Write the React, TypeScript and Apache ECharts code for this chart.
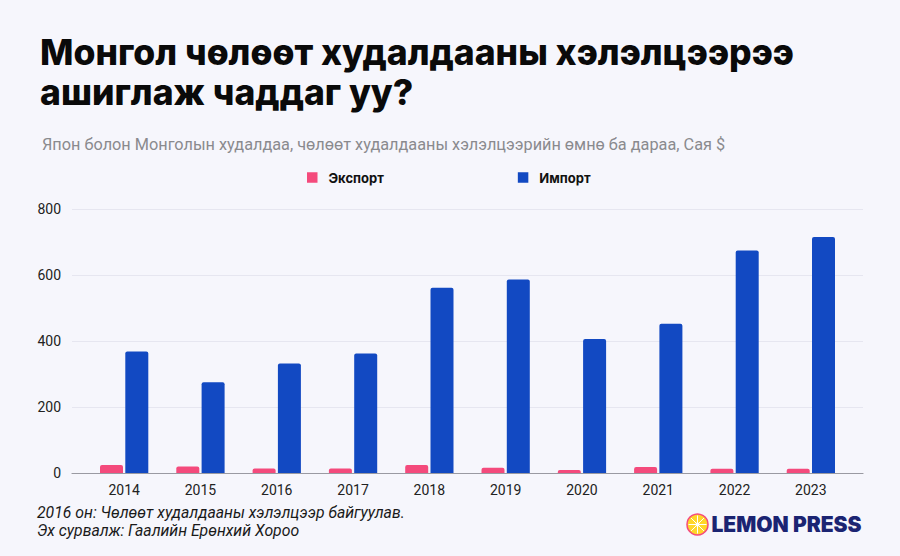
import React, { useEffect, useRef } from "react";
import * as echarts from "echarts";

const years = ["2014", "2015", "2016", "2017", "2018", "2019", "2020", "2021", "2022", "2023"];
const exportValues = [24, 20, 14, 14, 24, 16, 9, 18, 13, 13];
const importValues = [368, 275, 332, 362, 561, 586, 406, 452, 674, 715];
const yTicks = [0, 200, 400, 600, 800];
const seriesNames = ["Экспорт", "Импорт"];

const titleText = "Монгол чөлөөт худалдааны хэлэлцээрээ\nашиглаж чаддаг уу?";
const subtitleText = "Япон болон Монголын худалдаа, чөлөөт худалдааны хэлэлцээрийн өмнө ба дараа, Сая $";
const noteLines = ["2016 он: Чөлөөт худалдааны хэлэлцээр байгуулав.", "Эх сурвалж: Гаалийн Ерөнхий Хороо"];

const PINK = "#F44A7C";
const BLUE = "#1249C2";
const BG = "#F6F6FC";

export default function App() {
  const ref = useRef<HTMLDivElement>(null);
  useEffect(() => {
    document.body.style.margin = "0";
    const chart = echarts.init(ref.current!, null, { renderer: "svg" });
    const yMax = yTicks[yTicks.length - 1];
    const font = "Inter, Roboto, sans-serif";
    chart.setOption({
      animation: false,
      backgroundColor: BG,
      title: [
        {
          text: titleText,
          left: 35,
          top: 27,
          textStyle: { fontFamily: font, fontSize: 35.5, fontWeight: 800, color: "#0a0a0a", lineHeight: 40 },
        },
        {
          text: subtitleText,
          left: 37,
          top: 131,
          textStyle: { fontFamily: "Roboto, sans-serif", fontSize: 16.3, fontWeight: 400, color: "#8a8a8e" },
        },
      ],
      legend: {
        data: seriesNames,
        left: 302,
        top: 166,
        icon: "rect",
        itemWidth: 10.5,
        itemHeight: 10.5,
        itemGap: 134,
        textStyle: { fontFamily: font, fontSize: 13, fontWeight: 700, color: "#111", padding: [0, 0, 0, 6] },
      },
      grid: [
        { left: 86, right: 51, top: 209, bottom: 83 },
        { left: 72, right: 37, top: 209, bottom: 83 },
      ],
      xAxis: [
        {
          type: "category",
          gridIndex: 0,
          data: years,
          axisLine: { show: false },
          axisTick: { show: false },
          axisLabel: { color: "#222", fontFamily: "Roboto, sans-serif", fontSize: 14, margin: 10 },
        },
        {
          type: "value",
          gridIndex: 1,
          min: 0,
          max: 1,
          axisLine: { show: true, lineStyle: { color: "#9a9aa2", width: 1.2 } },
          axisTick: { show: false },
          axisLabel: { show: false },
          splitLine: { show: false },
        },
      ],
      yAxis: [
        {
          type: "value",
          gridIndex: 0,
          min: 0,
          max: yMax,
          interval: 200,
          axisLine: { show: false },
          axisTick: { show: false },
          axisLabel: { show: false },
          splitLine: { show: false },
        },
        {
          type: "value",
          gridIndex: 1,
          min: 0,
          max: yMax,
          interval: 200,
          axisLine: { show: false },
          axisTick: { show: false },
          axisLabel: { color: "#222", fontFamily: "Roboto, sans-serif", fontSize: 14, margin: 11 },
          splitLine: { lineStyle: { color: "#E6E6F0", width: 1 } },
        },
      ],
      series: [
        {
          name: seriesNames[0],
          type: "bar",
          xAxisIndex: 0,
          yAxisIndex: 0,
          data: exportValues,
          barWidth: 23,
          barGap: "10%",
          itemStyle: { color: PINK, borderRadius: [2, 2, 0, 0] },
        },
        {
          name: seriesNames[1],
          type: "bar",
          xAxisIndex: 0,
          yAxisIndex: 0,
          data: importValues,
          barWidth: 23,
          barGap: "10%",
          itemStyle: { color: BLUE, borderRadius: [2, 2, 0, 0] },
        },
      ],
      graphic: [
        {
          type: "text",
          left: 37,
          top: 503,
          style: {
            text: noteLines.join("\n"),
            fontFamily: "Roboto, sans-serif",
            fontStyle: "italic",
            fontSize: 15.8,
            lineHeight: 18,
            fill: "#1a1a1a",
          },
        },
        {
          type: "group",
          left: 686,
          top: 513,
          children: [
            { type: "circle", shape: { cx: 11, cy: 11, r: 10.5 }, style: { fill: "#FFD62A", stroke: "#F44A7C", lineWidth: 1.5 } },
            { type: "line", shape: { x1: 11, y1: 2, x2: 11, y2: 20 }, style: { stroke: "#fff", lineWidth: 1 } },
            { type: "line", shape: { x1: 2, y1: 11, x2: 20, y2: 11 }, style: { stroke: "#fff", lineWidth: 1 } },
            { type: "line", shape: { x1: 4.6, y1: 4.6, x2: 17.4, y2: 17.4 }, style: { stroke: "#fff", lineWidth: 1 } },
            { type: "line", shape: { x1: 17.4, y1: 4.6, x2: 4.6, y2: 17.4 }, style: { stroke: "#fff", lineWidth: 1 } },
            { type: "circle", shape: { cx: 11, cy: 11, r: 2 }, style: { fill: "#fff" } },
            {
              type: "text",
              x: 25,
              y: 0.5,
              style: {
                text: "LEMON PRESS",
                fontFamily: "Inter, sans-serif",
                fontWeight: 900,
                fontSize: 21,
                fill: "#1B2472",
              },
            },
          ],
        },
      ],
    });
    return () => chart.dispose();
  }, []);
  return <div ref={ref} style={{ width: 900, height: 556 }} />;
}
